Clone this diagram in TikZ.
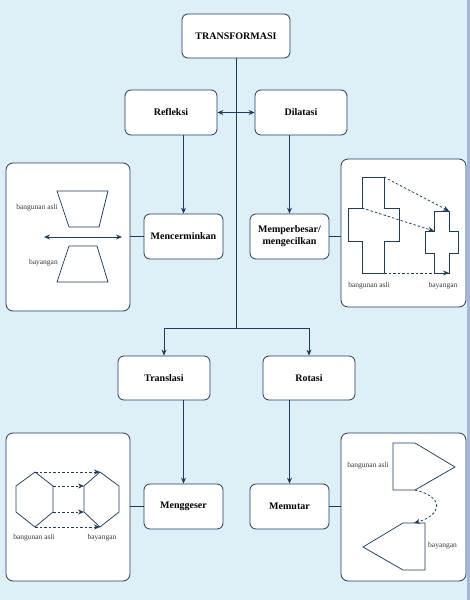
\documentclass[tikz,border=0pt]{standalone}
\usepackage{fontspec}
\setmainfont{Liberation Serif}
\usetikzlibrary{arrows.meta,calc}
\definecolor{bgc}{HTML}{DDEFF7}
\definecolor{navy}{HTML}{1E3D5E}
\definecolor{edgec}{HTML}{A9B6D3}
\definecolor{lbl}{HTML}{3A3A3A}
\begin{document}
\begin{tikzpicture}[x=1pt,y=-1pt,
 box/.style={draw=navy, fill=white, rounded corners=6pt, line width=0.8pt, font=\fontsize{10}{12}\selectfont\bfseries, align=center, inner sep=0pt},
 panel/.style={draw=navy, fill=white, rounded corners=7pt, line width=0.8pt, inner sep=0pt},
 ln/.style={draw=navy, line width=0.75pt},
 arr/.style={ln, -{Stealth[length=6pt,width=5pt]}},
 darr/.style={ln, {Stealth[length=6pt,width=5pt]}-{Stealth[length=6pt,width=5pt]}},
 dsh/.style={ln, dash pattern=on 2.5pt off 2pt, -{Stealth[length=6pt,width=5pt]}},
 shp/.style={draw=navy, line width=0.75pt, line join=miter},
 small/.style={font=\fontsize{7.5}{9}\selectfont, text=lbl, inner sep=0pt}
]
\useasboundingbox (0,0) rectangle (470,600);
\fill[bgc] (0,0) rectangle (470,600);
\fill[edgec] (467,0) rectangle (470,600);

% main boxes
\node[box, minimum width=108pt, minimum height=44pt] (T) at (236,36) {TRANSFORMASI};
\node[box, minimum width=92pt, minimum height=45pt] (refl) at (171,112.5) {Refleksi};
\node[box, minimum width=92pt, minimum height=45pt] (dil) at (301,112.5) {Dilatasi};
\node[box, minimum width=79pt, minimum height=45pt] (menc) at (183.5,236.5) {Mencerminkan};
\node[box, minimum width=79pt, minimum height=45pt] (mem) at (289.5,236.5) {Memperbesar/\\mengecilkan};
\node[box, minimum width=92pt, minimum height=44pt] (trans) at (164,378) {Translasi};
\node[box, minimum width=92pt, minimum height=44pt] (rot) at (309,378) {Rotasi};
\node[box, minimum width=79pt, minimum height=45pt] (geser) at (183.5,506.5) {Menggeser};
\node[box, minimum width=79pt, minimum height=45pt] (putar) at (289.5,506.5) {Memutar};

% panels
\node[panel, minimum width=124pt, minimum height=148pt] (p1) at (68,237) {};
\node[panel, minimum width=125pt, minimum height=148pt] (p2) at (403.5,233) {};
\node[panel, minimum width=124pt, minimum height=148pt] (p3) at (68,507) {};
\node[panel, minimum width=125pt, minimum height=148pt] (p4) at (403.5,507) {};

% connectors
\coordinate (split) at (236,328);
\draw[ln] (T.south) -- (split);
\draw[arr] (split) -| (trans.north);
\draw[arr] (split) -| (rot.north);
\draw[darr] (refl.east) -- (dil.west);
\draw[arr] (refl.south -| menc.north) -- (menc.north);
\draw[arr] (dil.south -| mem.north) -- (mem.north);
\draw[arr] (trans.south -| geser.north) -- (geser.north);
\draw[arr] (rot.south -| putar.north) -- (putar.north);
\draw[ln] (menc.west) -- (menc.west -| p1.east);
\draw[ln] (mem.east) -- (mem.east -| p2.west);
\draw[ln] (geser.west) -- (geser.west -| p3.east);
\draw[ln] (putar.east) -- (putar.east -| p4.west);

% panel 1: reflection
\draw[shp] (57,191) -- (108,191) -- (99,227) -- (69,227) -- cycle;
\draw[shp] (69,246) -- (97,246) -- (108,282) -- (57,282) -- cycle;
\draw[darr] (44,237) -- (122,237);
\node[small, anchor=east] at (58,208) {bangunan asli};
\node[small, anchor=east] at (58,263) {bayangan};

% panel 2: dilation
\draw[shp] (362,177) -- (384,177) -- (384,208) -- (399,208) -- (399,241) -- (384,241) -- (384,273) -- (362,273) -- (362,241) -- (348,241) -- (348,208) -- (362,208) -- cycle;
\draw[shp] (434,211) -- (449,211) -- (449,231) -- (458,231) -- (458,253) -- (449,253) -- (449,273) -- (434,273) -- (434,253) -- (425,253) -- (425,231) -- (434,231) -- cycle;
\draw[dsh] (384,177) -- (449,211);
\draw[dsh] (362,208) -- (434,231);
\draw[dsh] (384,273) -- (449,273);
\node[small] at (369,286) {bangunan asli};
\node[small] at (443,286) {bayangan};

% panel 3: translation
\draw[shp] (16,486) -- (35,472) -- (53,486) -- (53,512) -- (35,527) -- (16,512) -- cycle;
\draw[shp] (84,486) -- (100,472) -- (119,486) -- (119,512) -- (100,527) -- (84,512) -- cycle;
\draw[dsh] (35,472) -- (100,472);
\draw[dsh] (53,486) -- (84,486);
\draw[dsh] (53,512) -- (84,512);
\draw[dsh] (35,527) -- (100,527);
\node[small] at (34,538) {bangunan asli};
\node[small] at (102,538) {bayangan};

% panel 4: rotation
\draw[shp] (393,443) -- (415,443) -- (455,467) -- (415,490) -- (393,490) -- cycle;
\draw[shp] (425,523) -- (403,523) -- (363,547) -- (403,570) -- (425,570) -- cycle;
\draw[dsh] (415,490) .. controls (445,497) and (442,515) .. (414,523);
\node[small, anchor=east] at (389,466) {bangunan asli};
\node[small, anchor=west] at (428,546) {bayangan};
\end{tikzpicture}
\end{document}
